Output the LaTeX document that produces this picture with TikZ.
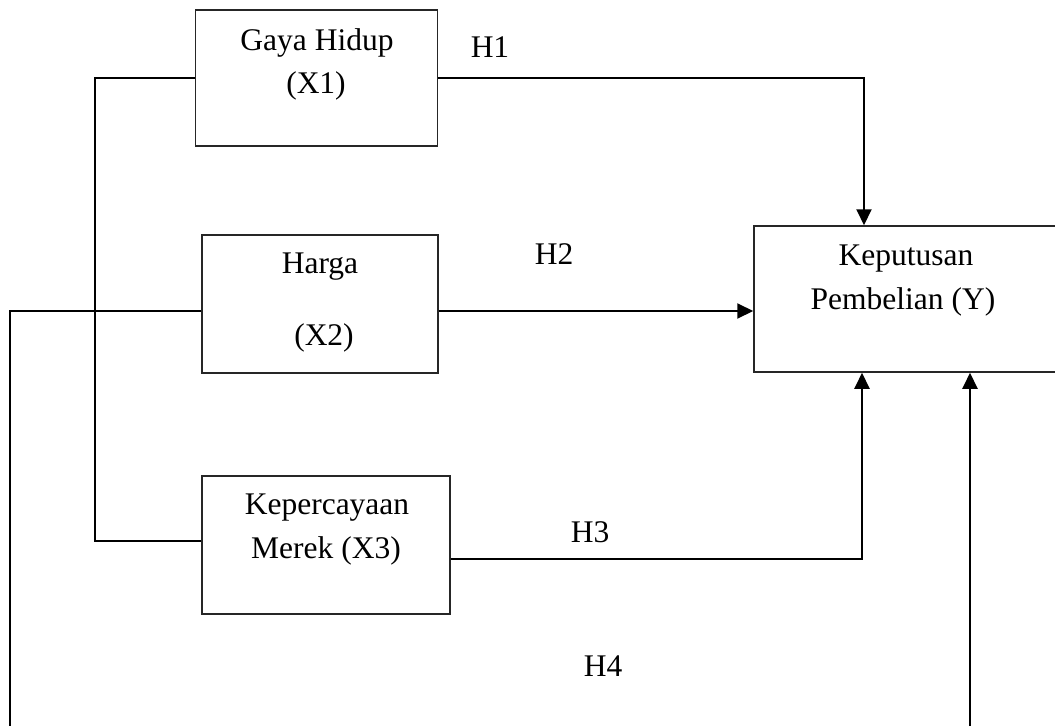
\documentclass[tikz,border=0pt]{standalone}
\usepackage{fontspec}
\setmainfont{Liberation Serif}
\usetikzlibrary{arrows.meta}
\begin{document}
\begin{tikzpicture}[x=1pt,y=-1pt,
  box/.style={draw=black!85,line width=1.5pt,rectangle,inner sep=0pt},
  txt/.style={anchor=base,inner sep=0pt,font=\fontsize{31.5}{36}\selectfont},
  conn/.style={draw=black,line width=2pt},
  arr/.style={conn,-{Triangle[length=16pt,width=15pt]}}]
\useasboundingbox (0,0) rectangle (1055,726);
\clip (0,0) rectangle (1055,726);
% boxes
\node[box,minimum width=242pt,minimum height=136pt] (X1) at (316.5,78) {};
\node[box,minimum width=236pt,minimum height=138pt] (X2) at (320,304) {};
\node[box,minimum width=248pt,minimum height=138pt] (X3) at (326,545) {};
\node[box,minimum width=308pt,minimum height=146pt] (Y) at (908,299) {};
% box texts
\node[txt] (t1a) at (317,50) {Gaya Hidup};
\node[txt] (t1b) at (316,93) {(X1)};
\node[txt] (t2a) at (320,273) {Harga};
\node[txt] (t2b) at (324,345) {(X2)};
\node[txt] (t3a) at (327,514) {Kepercayaan};
\node[txt] (t3b) at (326,558) {Merek (X3)};
\node[txt] (tya) at (906,265) {Keputusan};
\node[txt] (tyb) at (903,309) {Pembelian (Y)};
% hypothesis labels
\node[txt] (h1) at (490,57) {H1};
\node[txt] (h2) at (554,264) {H2};
\node[txt] (h3) at (590,542) {H3};
\node[txt] (h4) at (603,676) {H4};
% free ends
\coordinate (bl) at (10,726);
\coordinate (br) at (970,726);
% connectors
\draw[conn] (X1.west) -- ++(-100,0) |- ([yshift=4pt]X3.west);
\draw[arr] (X1.east) -| ([xshift=-44pt]Y.north);
\draw[arr] ([yshift=-7pt]X2.east) -- ([yshift=-12pt]Y.west);
\draw[conn] ([yshift=-7pt]X2.west) -| (bl);
\draw[arr] ([yshift=-14pt]X3.east) -| ([xshift=-46pt]Y.south);
\draw[arr] (br) -- (br |- Y.south);
\end{tikzpicture}
\end{document}
